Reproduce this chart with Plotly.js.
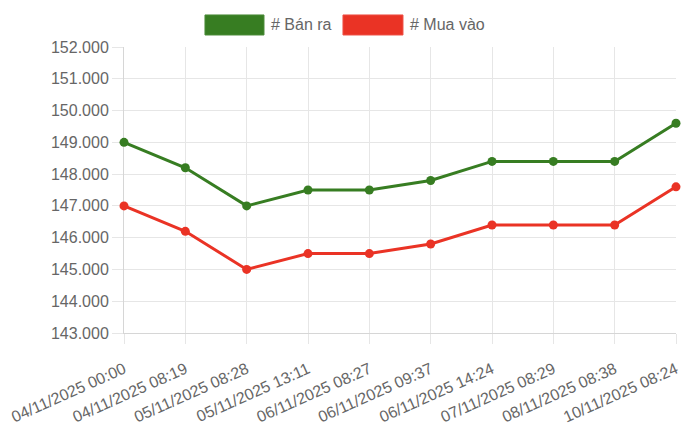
<!DOCTYPE html>
<html>
<head>
<meta charset="utf-8">
<script src="https://cdn.plot.ly/plotly-3.0.1.min.js"></script>
<style>html,body{margin:0;padding:0;background:#fff;}#chart{width:700px;height:435px;}</style>
</head>
<body>
<div id="chart"></div>
<script>
const categories = ["04/11/2025 00:00","04/11/2025 08:19","05/11/2025 08:28","05/11/2025 13:11","06/11/2025 08:27","06/11/2025 09:37","06/11/2025 14:24","07/11/2025 08:29","08/11/2025 08:38","10/11/2025 08:24"];
const banRa = [149000,148200,147000,147500,147500,147800,148400,148400,148400,149600];
const muaVao = [147000,146200,145000,145500,145500,145800,146400,146400,146400,147600];
const seriesNames = ["# Bán ra","# Mua vào"];
const yTicks = [143000,144000,145000,146000,147000,148000,149000,150000,151000,152000];

const green = '#377d22';
const red = '#ea3325';
const font = 'Liberation Sans, Arial, Helvetica, sans-serif';

const traces = [
  {x: categories, y: banRa, name: seriesNames[0], type: 'scatter', mode: 'lines+markers',
   line: {color: green, width: 3}, marker: {color: green, size: 9}, cliponaxis: false, showlegend: false},
  {x: categories, y: muaVao, name: seriesNames[1], type: 'scatter', mode: 'lines+markers',
   line: {color: red, width: 3}, marker: {color: red, size: 9}, cliponaxis: false, showlegend: false}
];

const layout = {
  width: 700, height: 435,
  margin: {l: 124, r: 24, t: 47, b: 102},
  paper_bgcolor: '#fff', plot_bgcolor: '#fff',
  separators: ',.',
  font: {family: font, size: 16, color: '#666'},
  xaxis: {type: 'category', range: [0, 9], showgrid: true, gridcolor: '#e6e6e6',
    ticks: 'outside', ticklen: 10, tickcolor: '#e6e6e6', tickangle: -24, ticklabelstandoff: 10,
    showline: true, linecolor: '#d6d6d6', zeroline: false, layer: 'below traces',
    tickfont: {family: font, size: 16, color: '#666'}},
  yaxis: {range: [143000, 152000], tickvals: yTicks, tickformat: ',', showgrid: true, gridcolor: '#e6e6e6',
    ticks: 'outside', ticklen: 11, tickcolor: '#e6e6e6',
    showline: true, linecolor: '#d6d6d6', zeroline: false, layer: 'below traces',
    tickfont: {family: font, size: 16, color: '#666'}},
  shapes: [
    {type: 'rect', xref: 'paper', yref: 'paper', x0: 0.1467, x1: 0.2536, y0: 1.042, y1: 1.112,
     fillcolor: green, line: {color: '#4a8a38', width: 1}},
    {type: 'rect', xref: 'paper', yref: 'paper', x0: 0.3967, x1: 0.5054, y0: 1.042, y1: 1.112,
     fillcolor: red, line: {color: '#ee5044', width: 1}}
  ],
  annotations: [
    {xref: 'paper', yref: 'paper', x: 0.2627, y: 1.077, xanchor: 'left', yanchor: 'middle',
     text: seriesNames[0], showarrow: false, font: {family: font, size: 16, color: '#666'}},
    {xref: 'paper', yref: 'paper', x: 0.5145, y: 1.077, xanchor: 'left', yanchor: 'middle',
     text: seriesNames[1], showarrow: false, font: {family: font, size: 16, color: '#666'}}
  ]
};

Plotly.newPlot('chart', traces, layout, {displayModeBar: false, staticPlot: true});
</script>
</body>
</html>
